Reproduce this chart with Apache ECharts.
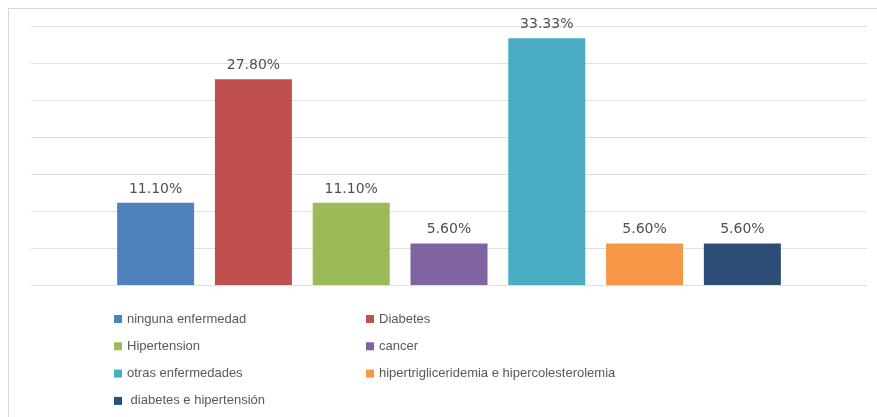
<!DOCTYPE html>
<html>
<head>
<meta charset="utf-8">
<script src="https://cdn.jsdelivr.net/npm/echarts@6/dist/echarts.min.js"></script>
<style>html,body{margin:0;padding:0;background:#fff;}#c{width:877px;height:417px;}</style>
</head>
<body>
<div id="c"></div>
<script>
const categories = ['ninguna enfermedad', 'Diabetes', 'Hipertension', 'cancer', 'otras enfermedades', 'hipertrigliceridemia e hipercolesterolemia', 'diabetes e hipertensión'];
const values = [11.10, 27.80, 11.10, 5.60, 33.33, 5.60, 5.60];
const colors = ['#4F81BD', '#C0504D', '#9BBB59', '#8064A2', '#4BACC6', '#F79646', '#2C4D75'];
const yMin = 0, yMax = 35, yInterval = 5;

const chart = echarts.init(document.getElementById('c'), null, {renderer: 'canvas'});
const series = categories.map((name, i) => ({
  name: name,
  type: 'bar',
  data: [values[i]],
  barWidth: 77,
  barGap: '27%',
  itemStyle: {color: colors[i]},
  label: {
    show: true, position: 'top', distance: 7,
    formatter: p => p.value.toFixed(2) + '%',
    fontFamily: 'DejaVu Sans', fontSize: 14, color: '#505050'
  }
}));
const legendBase = {
  orient: 'vertical', top: 307, itemWidth: 8, itemHeight: 8, itemGap: 13.3,
  icon: 'rect', selectedMode: false,
  formatter: n => (n === 'diabetes e hipertensión' ? ' ' + n : n),
  textStyle: {fontFamily: 'Liberation Sans', fontSize: 13, lineHeight: 14, color: '#595959'}
};
chart.setOption({
  animation: false,
  grid: {left: 31, right: 10, top: 26, bottom: 132},
  xAxis: {type: 'category', data: [''], axisLine: {show: false}, axisTick: {show: false}, axisLabel: {show: false}},
  yAxis: {type: 'value', min: yMin, max: yMax, interval: yInterval,
    axisLabel: {show: false}, axisLine: {show: false}, axisTick: {show: false},
    splitLine: {lineStyle: {color: '#e0e0e0', width: 1}}},
  legend: [
    Object.assign({}, legendBase, {left: 109, data: [categories[0], categories[2], categories[4], categories[6]]}),
    Object.assign({}, legendBase, {left: 361, data: [categories[1], categories[3], categories[5]]})
  ],
  graphic: [
    {type: 'line', shape: {x1: 8, y1: 8.5, x2: 877, y2: 8.5}, style: {stroke: '#d9d9d9', lineWidth: 1}},
    {type: 'line', shape: {x1: 8.5, y1: 8, x2: 8.5, y2: 417}, style: {stroke: '#d9d9d9', lineWidth: 1}}
  ],
  series: series
});
</script>
</body>
</html>
